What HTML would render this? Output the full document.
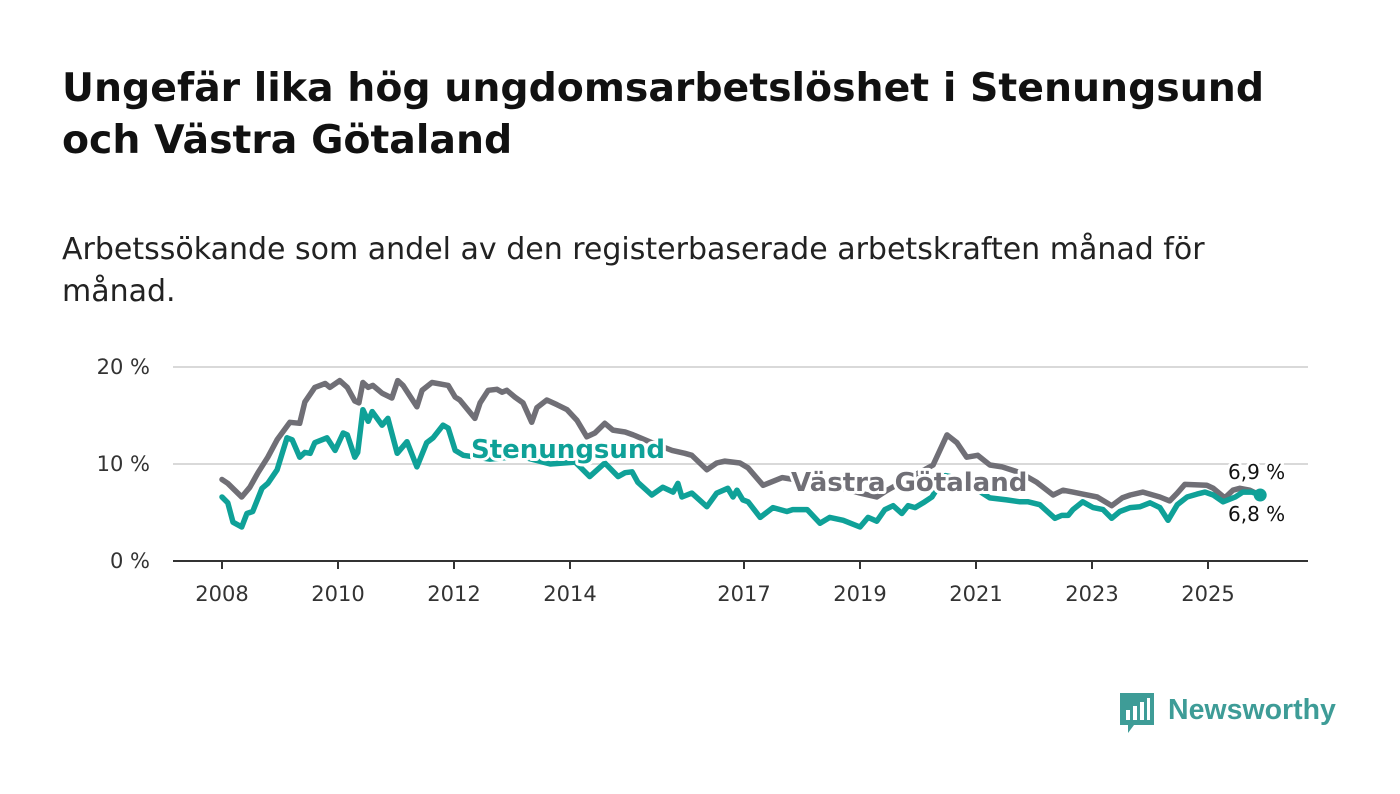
<!DOCTYPE html>
<html><head><meta charset="utf-8">
<style>
body{margin:0;background:#fff;width:1400px;height:794px;overflow:hidden;font-family:"DejaVu Sans","Liberation Sans",sans-serif;}
#title{position:absolute;left:62px;top:62px;font-size:39.4px;font-weight:bold;color:#111;line-height:52px;margin:0;white-space:nowrap;}
#sub{position:absolute;left:62px;top:229px;font-size:30px;color:#222;line-height:42px;white-space:nowrap;}
svg{position:absolute;left:0;top:0;}
</style></head><body>
<h1 id="title">Ungefär lika hög ungdomsarbetslöshet i Stenungsund<br>och Västra Götaland</h1>
<div id="sub">Arbetssökande som andel av den registerbaserade arbetskraften månad för<br>månad.</div>
<svg id="chart" width="1400" height="794"></svg>
<script>
const yTicks=[0,10,20];
const yTickLabels=["0 %","10 %","20 %"];
const xTicks=[2008,2010,2012,2014,2017,2019,2021,2023,2025];
const vgDates=[0,.10,.34,.48,.62,.79,.95,1.17,1.34,1.43,1.60,1.78,1.86,2.03,2.16,2.29,2.36,2.43,2.52,2.60,2.76,2.93,3.03,3.12,3.36,3.45,3.62,3.90,4.02,4.10,4.36,4.45,4.59,4.74,4.83,4.91,5.05,5.19,5.34,5.43,5.60,5.78,5.95,6.12,6.29,6.43,6.60,6.74,6.95,7.09,7.41,7.76,7.98,8.10,8.36,8.53,8.67,8.93,9.07,9.33,9.66,9.97,10.31,10.66,11.0,11.29,11.47,12.26,12.50,12.67,12.84,13.03,13.24,13.45,13.76,14.05,14.33,14.50,14.67,14.84,15.09,15.34,15.52,15.66,15.88,16.05,16.17,16.34,16.47,16.60,16.98,17.09,17.29,17.43,17.55,17.72,17.86];
const vgValues=[8.4,8.0,6.6,7.6,9.1,10.7,12.5,14.3,14.2,16.4,17.9,18.3,17.9,18.6,17.9,16.5,16.3,18.4,17.9,18.1,17.3,16.8,18.6,18.1,15.9,17.6,18.4,18.1,16.9,16.6,14.7,16.3,17.6,17.7,17.4,17.6,16.9,16.3,14.3,15.8,16.6,16.1,15.6,14.5,12.8,13.2,14.2,13.5,13.3,13.0,12.2,11.4,11.1,10.9,9.4,10.1,10.3,10.1,9.6,7.8,8.6,8.3,8.0,7.6,7.0,6.6,7.3,9.9,13.0,12.2,10.7,10.9,9.9,9.7,9.1,8.1,6.8,7.3,7.1,6.9,6.6,5.7,6.5,6.8,7.1,6.8,6.6,6.2,7.0,7.9,7.8,7.5,6.5,7.3,7.5,7.3,6.9];
const stDates=[0,.10,.19,.34,.43,.53,.69,.79,.95,1.12,1.21,1.34,1.43,1.52,1.60,1.81,1.95,2.09,2.16,2.29,2.34,2.43,2.52,2.59,2.76,2.86,3.02,3.19,3.36,3.53,3.64,3.81,3.90,4.02,4.16,4.62,5.14,5.66,6.09,6.34,6.60,6.83,6.95,7.07,7.17,7.41,7.60,7.78,7.86,7.93,8.10,8.36,8.53,8.72,8.81,8.88,8.98,9.07,9.28,9.50,9.74,9.84,10.09,10.31,10.48,10.71,11.0,11.14,11.29,11.43,11.57,11.72,11.83,11.95,12.09,12.24,12.47,12.72,12.98,13.24,13.53,13.76,13.90,14.10,14.36,14.48,14.59,14.67,14.84,15.02,15.19,15.34,15.48,15.66,15.83,16.0,16.17,16.31,16.47,16.64,16.81,16.95,17.09,17.26,17.47,17.60,17.76,17.90];
const stValues=[6.6,6.0,4.0,3.5,4.9,5.1,7.5,8.0,9.4,12.7,12.5,10.7,11.2,11.1,12.2,12.7,11.4,13.2,13.0,10.7,11.2,15.6,14.4,15.4,14.0,14.7,11.1,12.3,9.7,12.2,12.7,14.0,13.7,11.4,10.9,10.5,10.8,10.0,10.2,8.7,10.1,8.7,9.1,9.2,8.1,6.8,7.6,7.1,8.0,6.6,7.0,5.6,7.0,7.5,6.6,7.3,6.3,6.1,4.5,5.5,5.1,5.3,5.3,3.9,4.5,4.2,3.5,4.5,4.1,5.3,5.7,4.9,5.7,5.5,6.0,6.6,8.8,8.5,7.5,6.5,6.3,6.1,6.1,5.8,4.4,4.7,4.7,5.3,6.1,5.5,5.3,4.4,5.1,5.5,5.6,6.0,5.5,4.2,5.8,6.6,6.9,7.1,6.8,6.1,6.6,7.1,7.1,6.8];

const NS="http://www.w3.org/2000/svg";
const svg=document.getElementById('chart');
const X=t=>222+(t-2008)*58;
const Y=v=>561-v*9.7;
function mk(tag,attrs,parent){const e=document.createElementNS(NS,tag);for(const k in attrs)e.setAttribute(k,attrs[k]);(parent||svg).appendChild(e);return e;}

yTicks.forEach((v,i)=>{
  const l=mk('line',{x1:173,x2:1308,y1:Y(v),y2:Y(v),stroke:v===0?'#333':'#d9d9d9','stroke-width':2});
  
  
  const t=mk('text',{x:150,y:Y(v)+7,'text-anchor':'end','font-size':21,fill:'#333'});
  t.textContent=yTickLabels[i];
  
  
});
xTicks.forEach(yr=>{
  const l=mk('line',{x1:X(yr),x2:X(yr),y1:561,y2:569,stroke:'#333','stroke-width':2});
  
  
  const t=mk('text',{x:X(yr),y:601,'text-anchor':'middle','font-size':21,fill:'#333'});
  t.textContent=yr;
  
  
});
function line(d,v,color,name){
  const pts=d.map((t,i)=>X(2008+t).toFixed(1)+','+Y(v[i]).toFixed(1)).join(' ');
  const p=mk('polyline',{points:pts,fill:'none',stroke:color,'stroke-width':5.5,'stroke-linejoin':'round','stroke-linecap':'round'});
  
  
}
line(vgDates,vgValues,'#706f76','line-vastra-gotaland');
line(stDates,stValues,'#0fa198','line-stenungsund');
const dot=mk('circle',{cx:X(2008+stDates[stDates.length-1]),cy:Y(stValues[stValues.length-1]),r:6.5,fill:'#0fa198'});



function lab(x,y,txt,color,size,weight,name,anchor){
  const t=mk('text',{x:x,y:y,'text-anchor':anchor||'start','font-size':size,'font-weight':weight,fill:color,stroke:'#fff','stroke-width':6,'paint-order':'stroke','stroke-linejoin':'round'});
  t.textContent=txt;
  
  
}
lab(471,458,'Stenungsund','#0fa198',26,'bold','label-stenungsund');
lab(791,491,'Västra Götaland','#706f76',26,'bold','label-vastra-gotaland');
lab(1228,479,'6,9 %','#111',20,'normal','end-value-vastra-gotaland');
lab(1228,521,'6,8 %','#111',20,'normal','end-value-stenungsund');

const g=mk('g',{});


mk('path',{d:'M1120 693 h34 v32 h-20 l-6 8 v-8 h-8 z',fill:'#3e9c97'},g);
mk('rect',{x:1126,y:710,width:4,height:10,fill:'#fff'},g);
mk('rect',{x:1133,y:706,width:4,height:14,fill:'#fff'},g);
mk('rect',{x:1140,y:702,width:4,height:18,fill:'#fff'},g);
mk('rect',{x:1147,y:698,width:3,height:22,fill:'#fff'},g);
const lt=mk('text',{x:1168,y:719,'font-size':28.5,'font-family':'Liberation Sans, sans-serif','font-weight':'bold',fill:'#3e9c97'},g);
lt.textContent='Newsworthy';
</script>
</body></html>
